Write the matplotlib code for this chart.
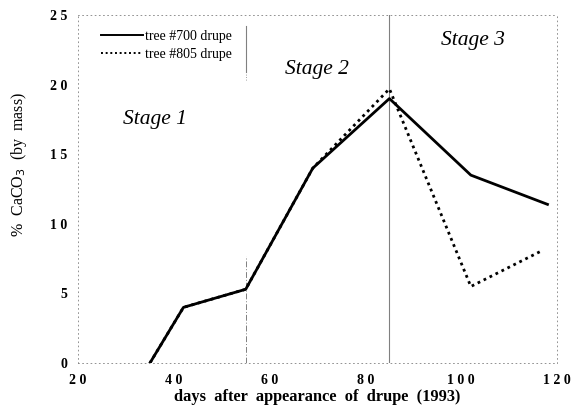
import matplotlib.pyplot as plt

days_700 = [35, 42, 55, 69, 85, 102, 118]
caco3_700 = [0, 4.0, 5.3, 14.0, 19.0, 13.5, 11.4]
days_805 = [35, 42, 55, 69, 85, 102, 117]
caco3_805 = [0, 4.0, 5.3, 14.0, 19.7, 5.5, 8.1]

xticks = [20, 40, 60, 80, 100, 120]
xtick_labels = ['2 0', '4 0', '6 0', '8 0', '1 0 0', '1 2 0']
yticks = [0, 5, 10, 15, 20, 25]
ytick_labels = ['0', '5', '1 0', '1 5', '2 0', '2 5']

stages = [('Stage 1', 36, 17.5), ('Stage 2', 69.8, 21.1), ('Stage 3', 102.5, 23.2)]

plt.rcParams['font.family'] = ['Liberation Serif', 'DejaVu Serif']

fig = plt.figure(figsize=(5.87, 4.07), dpi=100)
ax = fig.add_axes([0.133, 0.108, 0.816, 0.855])

ax.plot(days_805, caco3_805, color='black', lw=2.0, linestyle=(0, (1, 1.4)),
        label='tree #805 drupe', zorder=2)
ax.plot(days_700, caco3_700, color='black', lw=2.0, label='tree #700 drupe', zorder=3)

# stage boundaries
ax.plot([55, 55], [0, 7.7], color='gray', lw=0.7, linestyle=(0, (6, 2, 1, 2)), zorder=1)
ax.plot([55, 55], [20.9, 24.2], color='gray', lw=0.8, zorder=1)
ax.plot([55, 55], [20.3, 20.9], color='gray', lw=0.6, linestyle=(0, (1, 2)), zorder=1)
ax.plot([85, 85], [0, 25], color='gray', lw=0.8, zorder=1)

for txt, x, y in stages:
    ax.text(x, y, txt, fontsize=15.5, style='italic', ha='center', va='center')

ax.set_xlim(20, 120)
ax.set_ylim(0, 25)
ax.set_xticks(xticks)
ax.set_xticklabels(xtick_labels, fontsize=10, fontweight='bold')
ax.set_yticks(yticks)
ax.set_yticklabels(ytick_labels, fontsize=10, fontweight='bold')
ax.tick_params(length=0, pad=8)

for s in ax.spines.values():
    s.set_color('gray')
    s.set_linewidth(0.6)
    s.set_linestyle((0, (1, 4)))

ax.set_xlabel('days  after  appearance  of  drupe  (1993)', fontsize=11.8,
              fontweight='bold', labelpad=1)
ax.set_ylabel('%  CaCO$_3$  (by  mass)', fontsize=11.5)
ax.yaxis.set_label_coords(-0.103, 0.57)

handles, labels = ax.get_legend_handles_labels()
leg = ax.legend(handles[::-1], labels[::-1], loc='upper left', bbox_to_anchor=(0.036, 0.972),
                frameon=False, fontsize=10, handlelength=3.0, handletextpad=0.15,
                labelspacing=0.35, borderaxespad=0)
for line in leg.get_lines():
    line.set_linewidth(1.4)

fig.savefig('out.png', dpi=100)
